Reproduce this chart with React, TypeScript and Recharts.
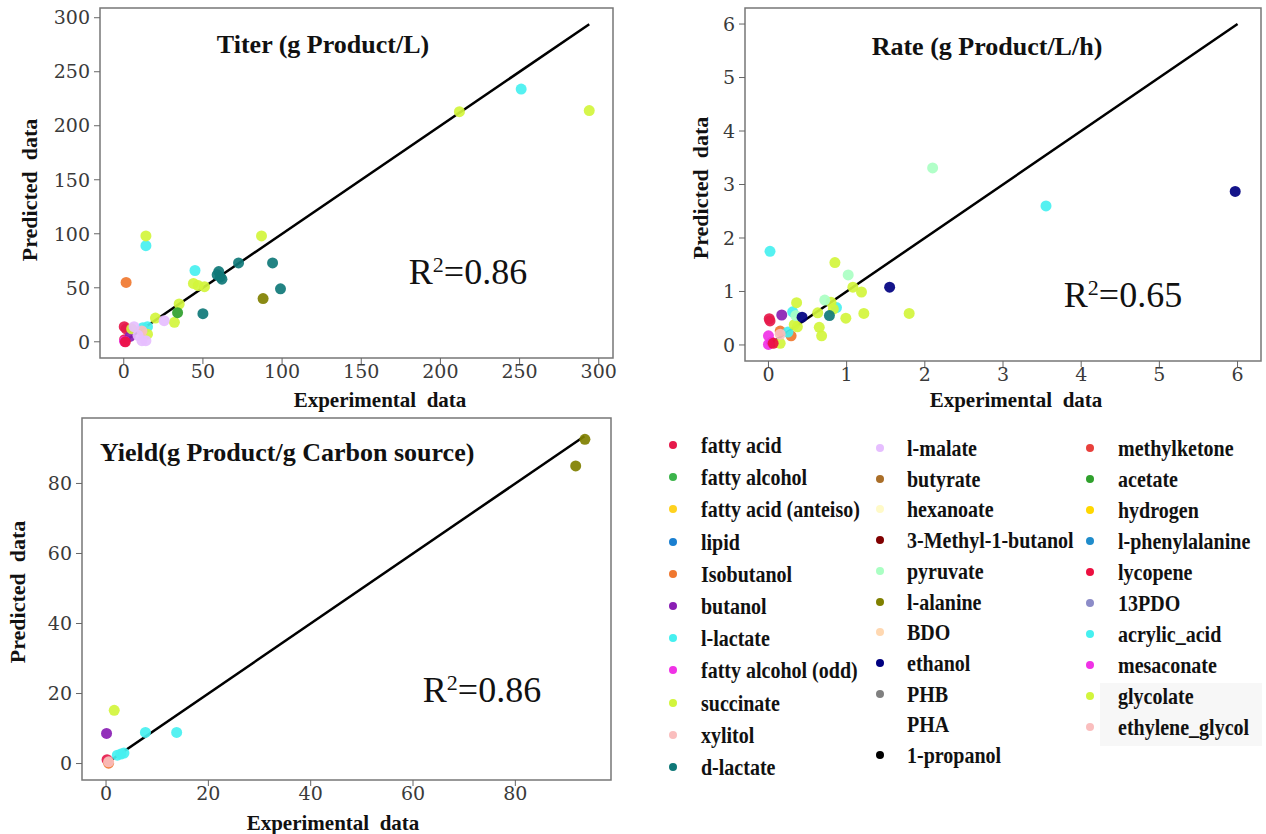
import React from 'react';
import { ScatterChart, Scatter, XAxis, YAxis, ReferenceArea } from 'recharts';

const seriesNames = [
  'fatty acid', 'fatty alcohol', 'fatty acid (anteiso)', 'lipid', 'Isobutanol', 'butanol',
  'l-lactate', 'fatty alcohol (odd)', 'succinate', 'xylitol', 'd-lactate',
  'l-malate', 'butyrate', 'hexanoate', '3-Methyl-1-butanol', 'pyruvate', 'l-alanine',
  'BDO', 'ethanol', 'PHB', 'PHA', '1-propanol',
  'methylketone', 'acetate', 'hydrogen', 'l-phenylalanine', 'lycopene', '13PDO',
  'acrylic_acid', 'mesaconate', 'glycolate', 'ethylene_glycol',
];

const seriesColors = [
  '#e6194b', '#3cb44b', '#ffd21f', '#1a7fd0', '#f07830', '#8a1eb4',
  '#46f0f0', '#f032e6', '#d2f53c', '#fabebe', '#0f7878',
  '#e6beff', '#aa6e28', '#fffac8', '#800000', '#aaffc3', '#808000',
  '#ffd8b1', '#000080', '#808080', '#ffffff', '#000000',
  '#e8403c', '#2fa02c', '#ffd700', '#1f8ccb', '#ec1040', '#8c8cc8',
  '#46f0f0', '#f032e6', '#d2f53c', '#fabebe',
];

const legendColumns = [11, 11, 10];

type P = [string, number, number];

const titerPoints: P[] = [
  ['succinate', 212, 213], ['succinate', 294, 214], ['succinate', 14, 98], ['succinate', 87, 98],
  ['succinate', 44, 54], ['succinate', 47, 52], ['succinate', 51, 51], ['succinate', 35, 35],
  ['succinate', 32, 18], ['succinate', 20, 22], ['succinate', 15, 7], ['succinate', 5, 12],
  ['l-lactate', 251, 234], ['l-lactate', 14, 89], ['l-lactate', 45, 66], ['l-lactate', 15, 14],
  ['l-lactate', 12, 13],
  ['d-lactate', 72.5, 73], ['d-lactate', 94, 73], ['d-lactate', 99, 49], ['d-lactate', 50, 26],
  ['d-lactate', 60, 65], ['d-lactate', 59, 62], ['d-lactate', 62, 58], ['d-lactate', 61, 60],
  ['l-alanine', 88, 40], ['Isobutanol', 1.5, 55], ['acetate', 34, 27],
  ['l-malate', 25.5, 19.5], ['l-malate', 11.5, 1], ['l-malate', 14, 1], ['l-malate', 6.5, 14],
  ['l-malate', 9, 6], ['xylitol', 11.5, 10],
  ['fatty acid', 0.3, 14], ['fatty acid', 1.5, 12], ['fatty acid', 0.5, 2],
  ['butanol', 4, 5], ['fatty alcohol (odd)', 0.5, 0.5], ['lycopene', 1, 0],
];

const ratePoints: P[] = [
  ['ethanol', 5.97, 2.87], ['ethanol', 1.55, 1.08], ['ethanol', 0.43, 0.52],
  ['l-lactate', 3.55, 2.6], ['l-lactate', 0.02, 1.75], ['l-lactate', 0.31, 0.62],
  ['l-lactate', 0.87, 0.7], ['l-lactate', 0.25, 0.24],
  ['pyruvate', 2.1, 3.31], ['pyruvate', 1.02, 1.31], ['pyruvate', 0.72, 0.84], ['pyruvate', 0.35, 0.55],
  ['succinate', 0.85, 1.54], ['succinate', 1.08, 1.08], ['succinate', 1.19, 0.99],
  ['succinate', 1.22, 0.59], ['succinate', 1.8, 0.59], ['succinate', 0.99, 0.5],
  ['succinate', 0.8, 0.8], ['succinate', 0.83, 0.67], ['succinate', 0.63, 0.6],
  ['succinate', 0.65, 0.33], ['succinate', 0.68, 0.17], ['succinate', 0.36, 0.79],
  ['succinate', 0.37, 0.34], ['succinate', 0.33, 0.38], ['succinate', 0.15, 0.03],
  ['d-lactate', 0.78, 0.55], ['butanol', 0.17, 0.56],
  ['fatty acid', 0.01, 0.49], ['fatty acid', 0.02, 0.45], ['fatty acid', 0.04, 0.05],
  ['fatty alcohol (odd)', 0.0, 0.17], ['fatty alcohol (odd)', 0.0, 0.01],
  ['Isobutanol', 0.15, 0.26], ['Isobutanol', 0.29, 0.17], ['xylitol', 0.15, 0.2],
  ['lycopene', 0.06, 0.03],
];

const yieldPoints: P[] = [
  ['l-alanine', 93.6, 92.6], ['l-alanine', 91.8, 85],
  ['succinate', 1.6, 15.2], ['butanol', 0.1, 8.6],
  ['l-lactate', 7.7, 8.9], ['l-lactate', 13.8, 8.9], ['l-lactate', 2.2, 2.4],
  ['l-lactate', 2.9, 2.7], ['l-lactate', 3.5, 3.0],
  ['fatty acid', 0.2, 1.1], ['Isobutanol', 0.5, 0.1], ['ethylene_glycol', 0.5, 0.5],
];

const titerTicks = [0, 50, 100, 150, 200, 250, 300];
const rateTicks = [0, 1, 2, 3, 4, 5, 6];
const yieldTicks = [0, 20, 40, 60, 80];

const titerDiag = [{ x: 0, y: 0 }, { x: 294, y: 294 }];
const rateDiag = [{ x: 0, y: 0 }, { x: 6, y: 6 }];
const yieldDiag = [{ x: 0, y: 0 }, { x: 93.5, y: 93.5 }];

const serif = '"Liberation Serif", "Times New Roman", serif';
const tickFont = { fill: '#3a3a3a', fontSize: 19, fontFamily: '"DejaVu Serif", serif' };

function group(points: P[]) {
  const out: { name: string; color: string; data: { x: number; y: number }[] }[] = [];
  seriesNames.forEach((n, i) => {
    const d = points.filter((p) => p[0] === n).map((p) => ({ x: p[1], y: p[2] }));
    if (d.length) out.push({ name: n, color: seriesColors[i], data: d });
  });
  return out;
}

type PanelProps = {
  left: number; top: number; width: number; height: number;
  margin: { top: number; right: number; bottom: number; left: number };
  domain: [number, number]; ticks: number[]; points: P[]; diag: { x: number; y: number }[];
};

function Panel({ left, top, width, height, margin, domain, ticks, points, diag }: PanelProps) {
  const groups = group(points);
  return (
    <div style={{ position: 'absolute', left, top, width, height }}>
      <ScatterChart width={width} height={height} margin={margin}>
        <XAxis type="number" dataKey="x" domain={domain} ticks={ticks} allowDataOverflow interval={0}
          axisLine={false} tickLine={{ stroke: '#666' }} tickSize={6} tickMargin={1} height={30} tick={tickFont} />
        <YAxis type="number" dataKey="y" domain={domain} ticks={ticks} allowDataOverflow interval={0}
          axisLine={false} tickLine={{ stroke: '#666' }} tickSize={6} tickMargin={4} width={60} tick={tickFont} />
        <ReferenceArea x1={domain[0]} x2={domain[1]} y1={domain[0]} y2={domain[1]}
          fill="none" fillOpacity={0} stroke="#777" strokeWidth={1.5} ifOverflow="visible" />
        <Scatter data={diag} isAnimationActive={false} line={{ stroke: '#000', strokeWidth: 2.5 }}
          shape={() => <g />} legendType="none" />
        {groups.map((g) => (
          <Scatter key={g.name} name={g.name} data={g.data} isAnimationActive={false}
            shape={(p: any) => <circle cx={p.cx} cy={p.cy} r={5.5} fill={g.color} fillOpacity={0.92} />} />
        ))}
      </ScatterChart>
    </div>
  );
}

const abs = (x: number, y: number, extra: React.CSSProperties = {}): React.CSSProperties => ({
  position: 'absolute', left: x, top: y, transform: 'translate(-50%, -50%)', whiteSpace: 'pre',
  fontFamily: serif, lineHeight: 1, color: '#111', ...extra,
});

function R2({ x, y, v }: { x: number; y: number; v: string }) {
  return (
    <div style={abs(x, y, { fontSize: 36 })}>
      R<sup style={{ fontSize: 22, verticalAlign: 'top', position: 'relative', top: 0 }}>2</sup>={v}
    </div>
  );
}

function Title({ x, y, t, alignLeft }: { x: number; y: number; t: string; alignLeft?: boolean }) {
  return (
    <div style={abs(x, y, { fontSize: 26, fontWeight: 'bold', transform: alignLeft ? 'translate(0, -50%)' : 'translate(-50%, -50%)' })}>{t}</div>
  );
}

function XLab({ x, y }: { x: number; y: number }) {
  return <div style={abs(x, y, { fontSize: 21, fontWeight: 'bold' })}>{'Experimental  data'}</div>;
}
function YLab({ x, y }: { x: number; y: number }) {
  return <div style={abs(x, y, { fontSize: 22, fontWeight: 'bold', transform: 'translate(-50%, -50%) rotate(-90deg)' })}>{'Predicted  data'}</div>;
}

const legendLayout = [
  { dotX: 673, textX: 701, y0: 445, dy: 32.2 },
  { dotX: 880, textX: 907, y0: 448, dy: 30.7 },
  { dotX: 1090, textX: 1118, y0: 448, dy: 31 },
];

function LegendBlock() {
  const items: React.ReactNode[] = [];
  let idx = 0;
  legendColumns.forEach((count, c) => {
    const L = legendLayout[c];
    for (let r = 0; r < count; r++) {
      const i = idx++;
      const y = L.y0 + r * L.dy;
      items.push(
        <div key={'d' + i} style={{ position: 'absolute', left: L.dotX - 4, top: y - 4, width: 8, height: 8, borderRadius: 4, background: seriesColors[i] }} />,
      );
      items.push(
        <div key={'t' + i} style={{ position: 'absolute', left: L.textX, top: y, transform: 'translateY(-50%) scaleY(1.12)', transformOrigin: 'left center', fontFamily: serif, fontWeight: 'bold', fontSize: 20, lineHeight: 1, whiteSpace: 'pre', color: '#111' }}>
          {seriesNames[i]}
        </div>,
      );
    }
  });
  return <>{items}</>;
}

export default function App() {
  return (
    <div style={{ position: 'absolute', left: 0, top: 0, width: 1266, height: 834, background: '#fff', overflow: 'hidden' }}>
      <div style={{ position: 'absolute', left: 1100, top: 683, width: 162, height: 63, background: '#f7f7f7' }} />
      <Panel left={0} top={0} width={630} height={410}
        margin={{ top: 8, right: 17, bottom: 22, left: 40 }}
        domain={[-15, 309]} ticks={titerTicks} points={titerPoints} diag={titerDiag} />
      <Panel left={630} top={0} width={636} height={410}
        margin={{ top: 8, right: 5, bottom: 19, left: 55 }}
        domain={[-0.3, 6.3]} ticks={rateTicks} points={ratePoints} diag={rateDiag} />
      <Panel left={0} top={410} width={640} height={424}
        margin={{ top: 8, right: 29, bottom: 24, left: 22 }}
        domain={[-4.7, 98.7]} ticks={yieldTicks} points={yieldPoints} diag={yieldDiag} />

      <Title x={323} y={45} t="Titer (g Product/L)" />
      <Title x={987} y={47} t="Rate (g Product/L/h)" />
      <Title x={100} y={453} t="Yield(g Product/g Carbon source)" alignLeft />

      <R2 x={468} y={272} v="0.86" />
      <R2 x={1123} y={295} v="0.65" />
      <R2 x={482} y={690} v="0.86" />

      <YLab x={30} y={190} />
      <YLab x={701} y={188} />
      <YLab x={18} y={592} />
      <XLab x={380} y={400} />
      <XLab x={1016} y={400} />
      <XLab x={333} y={823} />

      <LegendBlock />
    </div>
  );
}
